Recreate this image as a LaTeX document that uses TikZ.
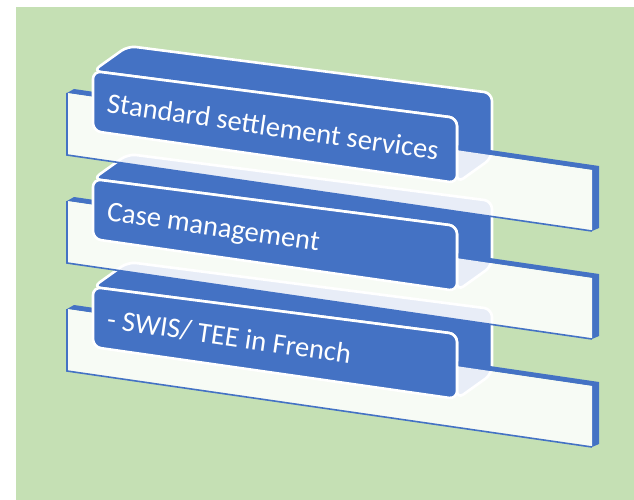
\documentclass[tikz,border=0pt]{standalone}
\usepackage{fontspec}
\setmainfont{Carlito}
\definecolor{bgreen}{HTML}{C5E0B4}
\definecolor{oblue}{HTML}{4472C4}
\tikzset{
  slabface/.style={fill=oblue, draw=white, line width=2.6pt, line join=round, rounded corners=8pt},
  shelfface/.style={fill=white, fill opacity=0.88},
  shelfedge/.style={fill=oblue},
  edgeline/.style={draw=oblue, line width=1.6pt},
  lbl/.style={text=white, font=\fontsize{28.5}{30}\selectfont, rotate=-8.3, anchor=base west, inner sep=0pt}
}
\newcommand{\mylayer}[2]{%
  \begin{scope}[shift={(0,108*#1)}]
    % back of slab: top face and side face
    \path[slabface] (93,71) -- (128,46) -- (492,93) -- (492,158) -- (457,183) -- (457,118) -- cycle;
    % shelf: top and right faces
    \fill[shelfedge] (67,93) -- (74,89) -- (599,166) -- (599,228) -- (592,231) -- (592,170) -- cycle;
    % shelf: front face (translucent)
    \fill[shelfface] (67,93) -- (592,170) -- (592,231) -- (67,155) -- cycle;
    \draw[edgeline] (67,93) -- (67,155) -- (592,231);
    % front face of slab
    \path[slabface] (93,71) -- (457,118) -- (457,183) -- (93,131) -- cycle;
    \node[lbl] (t#1) at (106,112) {#2};
  \end{scope}}
\begin{document}
\begin{tikzpicture}[x=1pt,y=-1pt]
\useasboundingbox (0,0) rectangle (634,500);
\fill[white] (0,0) rectangle (634,500);
\fill[bgreen] (16,7) rectangle (634,500);
\mylayer{2}{- SWIS/ TEE in French}
\mylayer{1}{Case management}
\mylayer{0}{Standard settlement services}
\end{tikzpicture}
\end{document}
